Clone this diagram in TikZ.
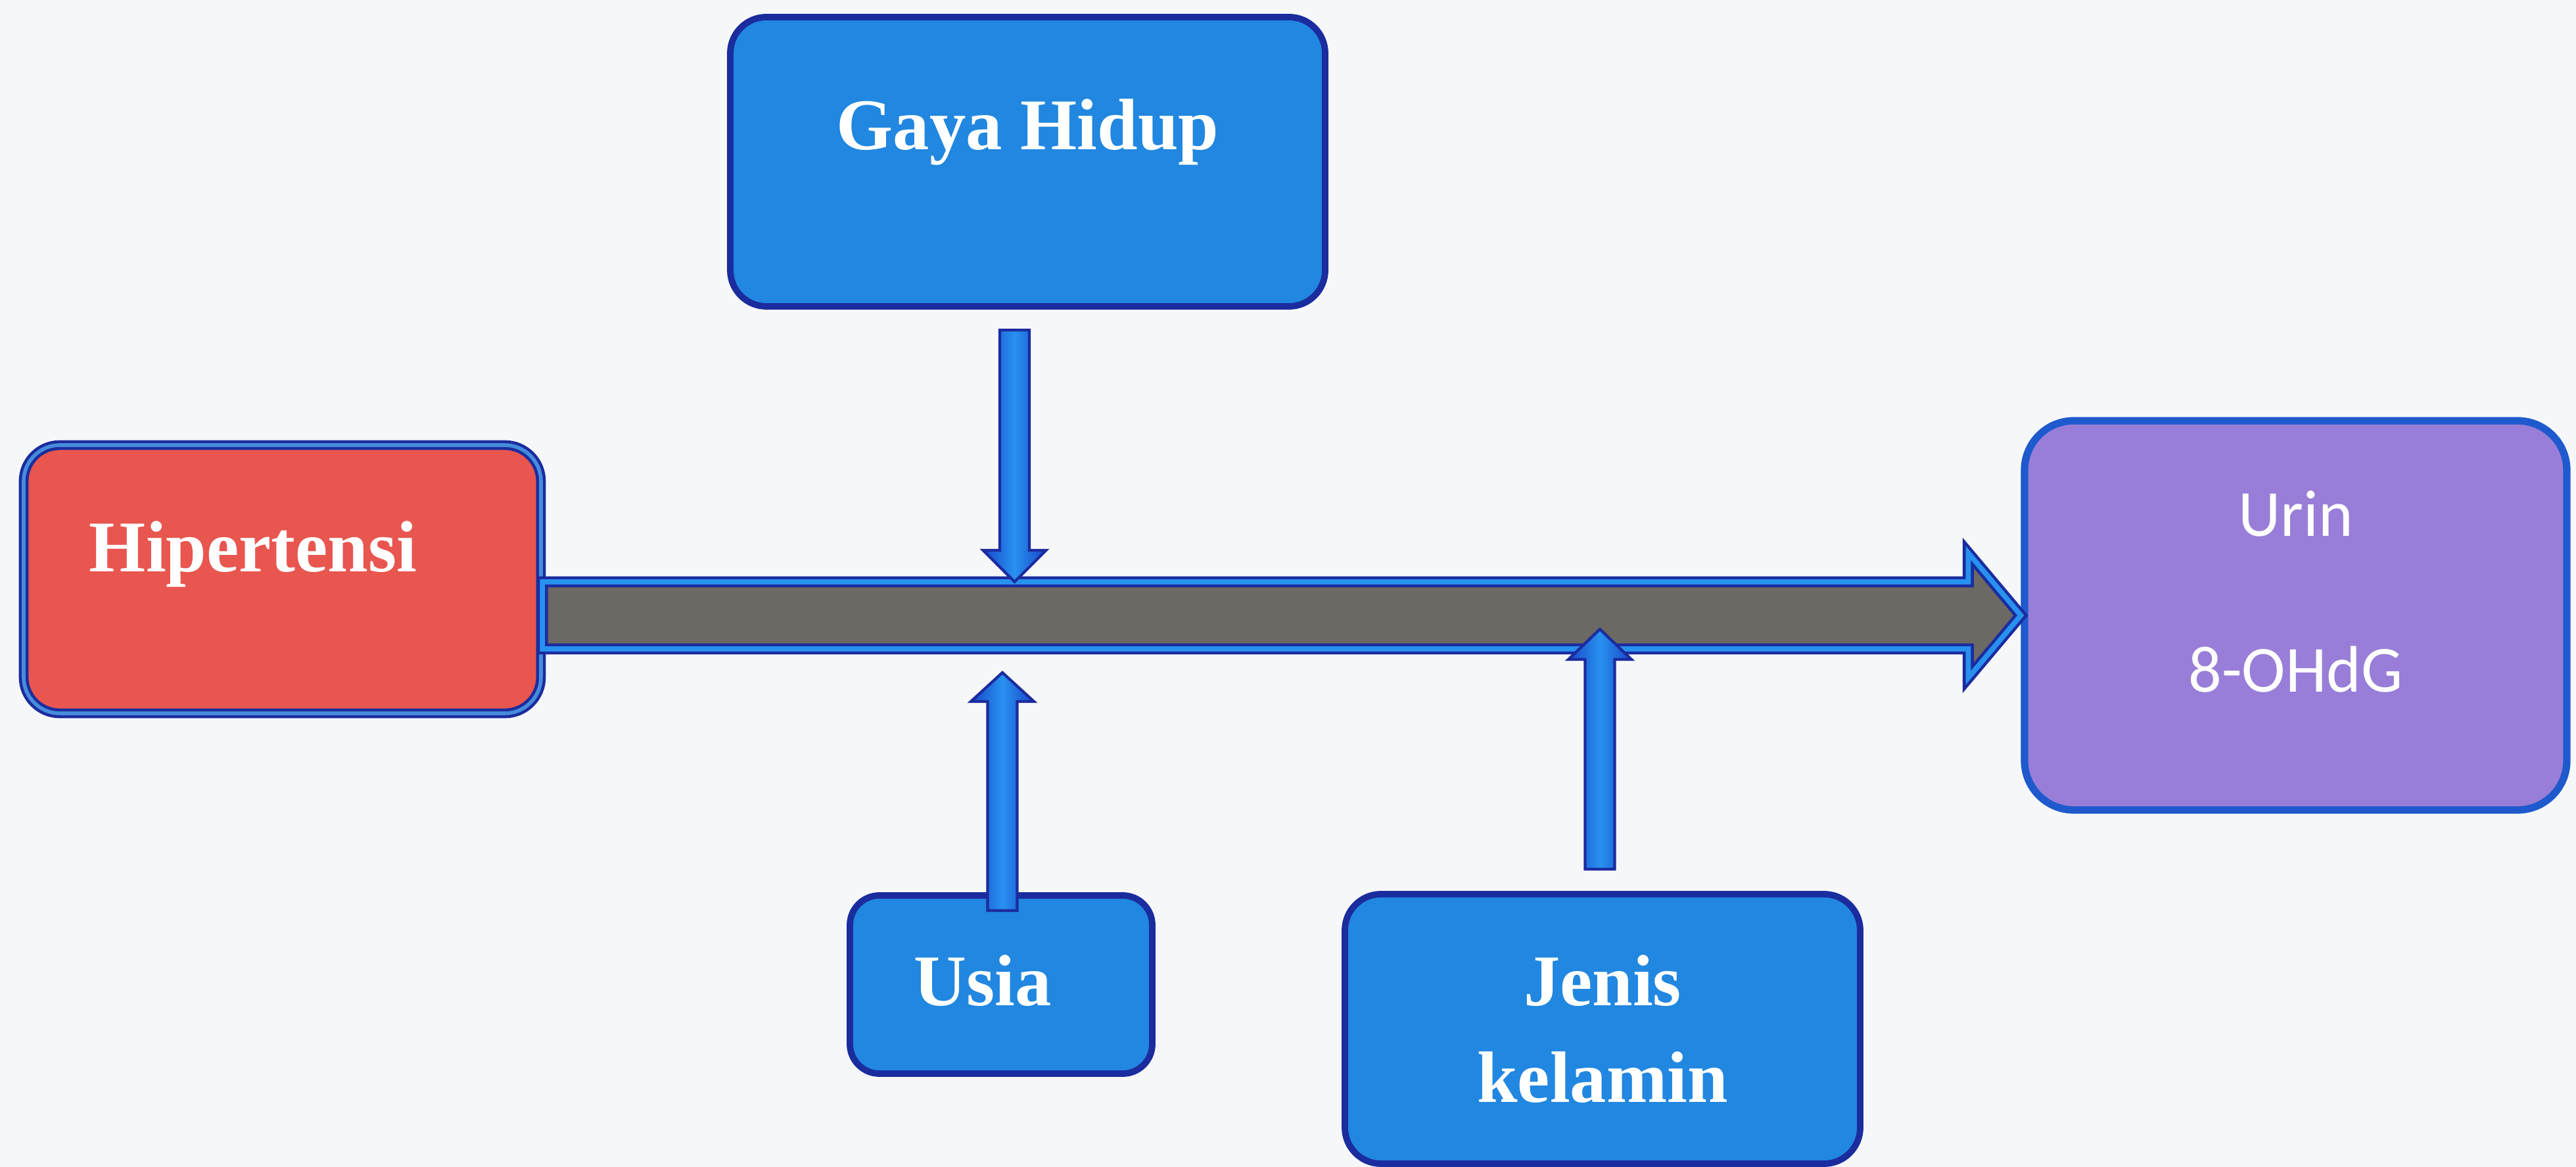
\documentclass[tikz,border=0pt]{standalone}
\usepackage{fontspec}
\setmainfont{Liberation Serif}
\newfontfamily\carlito{Carlito}
\usetikzlibrary{calc}

\definecolor{paper}{RGB}{246,247,249}
\definecolor{navy}{RGB}{27,44,158}
\definecolor{boxblue}{RGB}{33,135,224}
\definecolor{rimblue}{RGB}{70,140,220}
\definecolor{hipred}{RGB}{232,86,79}
\definecolor{urinpurple}{RGB}{152,126,216}
\definecolor{urinedge}{RGB}{30,90,205}
\definecolor{shaftgray}{RGB}{108,104,100}
\definecolor{arrowblue}{RGB}{40,145,240}
\definecolor{arrowedge}{RGB}{25,70,200}

\tikzset{
	factor/.style={draw=navy, line width=2.8pt, fill=boxblue, rounded corners=0.55cm},
	cause/.style={draw=navy, line width=1.3pt, double=rimblue, double distance=1.6pt, fill=hipred, rounded corners=0.55cm},
	effect/.style={draw=urinedge, line width=3.2pt, fill=urinpurple, rounded corners=0.75cm},
	serifwhite/.style={text=white, inner sep=0pt, font=\fontsize{31.5}{42}\selectfont\bfseries},
	sanswhite/.style={text=white, inner sep=0pt, font=\carlito\fontsize{28.5}{38}\selectfont},
	mainarrow/.style={draw=navy, line width=1.3pt, double=arrowblue, double distance=2.2pt, fill=shaftgray},
	sidearrow/.style={draw=navy, line width=1.2pt, left color=arrowedge, right color=arrowedge, middle color=arrowblue}
}

% block arrow: start, tip, signed head length
\newcommand{\sidearr}[3]{%
	\draw[sidearrow] ($(#1)+(-0.225,0)$) -- ($(#2)+(-0.225,#3)$) -- ($(#2)+(-0.48,#3)$) -- (#2) -- ($(#2)+(0.48,#3)$) -- ($(#2)+(0.225,#3)$) -- ($(#1)+(0.225,0)$) -- cycle;}

\begin{document}
\begin{tikzpicture}

	\useasboundingbox (0,0) rectangle (39.19,17.75);
	\fill[paper] (0,0) rectangle (39.19,17.75);

	\node[cause, minimum width=7.87cm, minimum height=4.08cm] (hip) at (4.295, 8.94) {};
	\node[factor, minimum width=9.05cm, minimum height=4.40cm] (gaya) at (15.635, 15.29) {};
	\node[factor, minimum width=4.60cm, minimum height=2.71cm, rounded corners=0.45cm] (usia) at (15.23, 2.775) {};
	\node[factor, serifwhite, align=center, minimum width=7.84cm, minimum height=4.10cm] (jenis) at (24.38, 2.10) {Jenis\\kelamin};
	\node[effect, minimum width=8.25cm, minimum height=5.92cm] (urin) at (34.925, 8.39) {};

	\node[serifwhite, anchor=base] (hiptxt) at ($(hip.center)+(-0.445,0.11)$) {Hipertensi};
	\node[serifwhite, anchor=base] (gayatxt) at ($(gaya.center)+(0,0.18)$) {Gaya Hidup};
	\node[serifwhite, anchor=base] (usiatxt) at ($(usia.center)+(-0.28,-0.325)$) {Usia};
	\node[sanswhite, anchor=base] (urintxt) at ($(urin.center)+(0,1.20)$) {Urin};
	\node[sanswhite, anchor=base] (ohdgtxt) at ($(urin.center)+(0,-1.17)$) {8-OHdG};

	% main arrow
	\coordinate (tail) at (hip.east |- urin.west);
	\path (tail) ++(0,0.51) coordinate (shaftN) (tail) ++(0,-0.51) coordinate (shaftS);
	\filldraw[mainarrow] (shaftN) -- ($(urin.west)+(-0.8,0.51)$) -- ($(urin.west)+(-0.8,0.95)$) -- (urin.west) -- ($(urin.west)+(-0.8,-0.95)$) -- ($(urin.west)+(-0.8,-0.51)$) -- (shaftS) -- cycle;

	% side arrows
	\path (gaya.south) ++(-0.2,-0.31) coordinate (gstart);
	\coordinate (gtip) at (gstart |- shaftN);
	\sidearr{gstart}{gtip}{0.48}

	\path (usia.north) ++(0.02,-0.28) coordinate (ustart);
	\path (ustart |- shaftS) ++(0,-0.36) coordinate (utip);
	\sidearr{ustart}{utip}{-0.44}

	\path (jenis.north) ++(-0.04,0.33) coordinate (jstart);
	\path (jstart |- shaftS) ++(0,0.30) coordinate (jtip);
	\sidearr{jstart}{jtip}{-0.46}

\end{tikzpicture}
\end{document}
